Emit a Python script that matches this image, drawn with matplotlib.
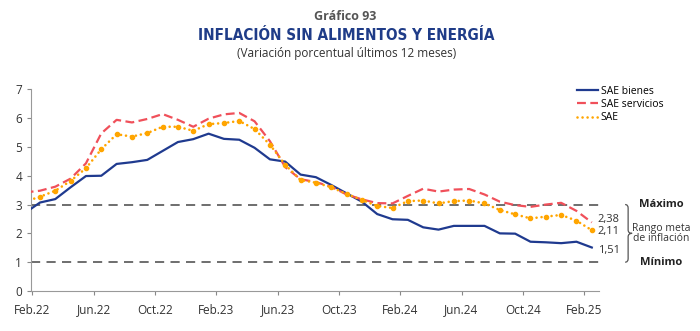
import matplotlib
matplotlib.use("Agg")
import matplotlib.pyplot as plt
from matplotlib.path import Path
from matplotlib.patches import PathPatch
from matplotlib.transforms import blended_transform_factory

# ---------------- data ----------------
# months from Jan.22 to Feb.25 (Jan.22 is partly clipped by the axis)
months = ["Jan.22", "Feb.22", "Mar.22", "Apr.22", "May.22", "Jun.22", "Jul.22", "Aug.22",
          "Sep.22", "Oct.22", "Nov.22", "Dec.22", "Jan.23", "Feb.23", "Mar.23", "Apr.23",
          "May.23", "Jun.23", "Jul.23", "Aug.23", "Sep.23", "Oct.23", "Nov.23", "Dec.23",
          "Jan.24", "Feb.24", "Mar.24", "Apr.24", "May.24", "Jun.24", "Jul.24", "Aug.24",
          "Sep.24", "Oct.24", "Nov.24", "Dec.24", "Jan.25", "Feb.25"]
sae_bienes = [2.70, 3.07, 3.19, 3.60, 3.99, 4.00, 4.41, 4.47, 4.55, 4.86, 5.17, 5.27, 5.46,
              5.28, 5.25, 4.97, 4.57, 4.49, 4.04, 3.95, 3.68, 3.39, 3.10, 2.67, 2.49, 2.47,
              2.21, 2.13, 2.26, 2.26, 2.26, 2.00, 1.99, 1.71, 1.69, 1.66, 1.71, 1.51]
sae_servicios = [3.42, 3.48, 3.62, 3.90, 4.43, 5.47, 5.94, 5.85, 5.97, 6.14, 5.94, 5.70, 5.98,
                 6.13, 6.18, 5.89, 5.20, 4.30, 3.88, 3.78, 3.62, 3.35, 3.18, 3.05, 3.04, 3.30,
                 3.55, 3.45, 3.52, 3.54, 3.35, 3.10, 2.98, 2.92, 3.00, 3.06, 2.78, 2.38]
sae = [3.10, 3.27, 3.48, 3.82, 4.26, 4.92, 5.44, 5.36, 5.48, 5.70, 5.70, 5.56, 5.79, 5.83,
       5.90, 5.62, 5.08, 4.38, 3.85, 3.76, 3.60, 3.37, 3.16, 2.95, 2.88, 3.12, 3.14, 3.04,
       3.12, 3.14, 3.04, 2.81, 2.66, 2.52, 2.58, 2.64, 2.44, 2.11]
tick_labels = ["Feb.22", "Jun.22", "Oct.22", "Feb.23", "Jun.23", "Oct.23",
               "Feb.24", "Jun.24", "Oct.24", "Feb.25"]
end_labels = ["2,38", "2,11", "1,51"]
target_max, target_min = 3, 1

# ---------------- style ----------------
BLUE = "#1f3a8f"
RED = "#f0505a"
ORANGE = "#ffa500"
NAVY = "#1f3c88"
TXT = "#333333"
plt.rcParams['font.family'] = ['Open Sans', 'DejaVu Sans']

fig = plt.figure(figsize=(7.0, 3.31), dpi=100)
ax = fig.add_axes([31 / 700, 40 / 331, 568 / 700, 201.7 / 331])

# data points sit in the middle of each month; tick marks at start of month
x = [i - 0.5 for i in range(len(months))]

ax.axhline(target_max, color="#555555", lw=1.2, dashes=(5.5, 3.8), zorder=1)
ax.axhline(target_min, color="#555555", lw=1.2, dashes=(5.5, 3.8), zorder=1)

ax.plot(x, sae_bienes, color=BLUE, lw=1.6, label="SAE bienes", zorder=3)
ax.plot(x, sae_servicios, color=RED, lw=1.6, dashes=(4.0, 2.0), label="SAE servicios", zorder=3)
ax.plot(x, sae, color=ORANGE, lw=1.9, dashes=(0.01, 1.9), dash_capstyle="round",
        label="SAE", zorder=4)
ax.plot(x, sae, ls="none", marker="o", ms=3.0, color=ORANGE, zorder=4)

ax.set_xlim(-0.085, 36.97)
ax.set_ylim(0, 7)
ax.set_yticks(range(0, 8))
ax.set_xticks(range(0, 37, 4))
ax.set_xticklabels(tick_labels)
ax.tick_params(axis="both", labelsize=8.5, colors="#888888", labelcolor=TXT, length=3, width=0.8)
ax.tick_params(axis="x", pad=6)
for s in ["top", "right"]:
    ax.spines[s].set_visible(False)
for s in ["left", "bottom"]:
    ax.spines[s].set_color("#999999")
    ax.spines[s].set_linewidth(0.8)

# end labels
ends = [sae_servicios[-1], sae[-1], sae_bienes[-1]]
offs = [0.1, -0.06, -0.1]
for lab, v, o in zip(end_labels, ends, offs):
    ax.text(x[-1] + 0.4, v + o, lab, fontsize=8, color=TXT, va="center", ha="left",
            clip_on=False)

# brace and target range text
tr = blended_transform_factory(ax.transAxes, ax.transData)
px = 1 / 568
x0 = 1.046
x1 = x0 + 3 * px
x2 = x1 + 4 * px
ym = (target_max + target_min) / 2
r = 0.12
verts = [(x0, target_max), (x1, target_max), (x1, target_max - r), (x1, ym + r),
         (x1, ym), (x2, ym), (x1, ym), (x1, ym - r), (x1, target_min + r),
         (x1, target_min), (x0, target_min)]
codes = [Path.MOVETO, Path.CURVE3, Path.CURVE3, Path.LINETO, Path.CURVE3, Path.CURVE3,
         Path.CURVE3, Path.CURVE3, Path.LINETO, Path.CURVE3, Path.CURVE3]
ax.add_patch(PathPatch(Path(verts, codes), fill=False, edgecolor="#555555", lw=0.9,
                       transform=tr, clip_on=False))
xc = (661 - 31) / 568
ax.text(xc, target_max, "Máximo", transform=tr, ha="center", va="center", fontsize=8,
        fontweight="bold", color="#222222", clip_on=False)
ax.text(xc, target_min, "Mínimo", transform=tr, ha="center", va="center", fontsize=8,
        fontweight="bold", color="#222222", clip_on=False)
ax.text(xc, ym, "Rango meta\nde inflación", transform=tr, ha="center", va="center",
        fontsize=7.5, color=TXT, linespacing=0.95, clip_on=False)

# legend
fig.legend(loc="upper left", bbox_to_anchor=(577 / 700, 1 - 86 / 331), frameon=False,
           fontsize=7.5, handlelength=2.0, handletextpad=0.3, labelspacing=0.2,
           borderpad=0, borderaxespad=0)

# titles
fig.text(0.493, 1 - 17 / 331, "Gráfico 93", ha="center", va="center", fontsize=9,
         fontweight="bold", color="#555555")
fig.text(0.495, 1 - 36 / 331, "INFLACIÓN SIN ALIMENTOS Y ENERGÍA", ha="center", va="center",
         fontsize=11, fontweight="bold", fontstretch="condensed", color=NAVY,
         family=["DejaVu Sans"])
fig.text(0.495, 1 - 53 / 331, "(Variación porcentual últimos 12 meses)", ha="center",
         va="center", fontsize=8.5, color=TXT)

fig.savefig("out.png", dpi=100)
